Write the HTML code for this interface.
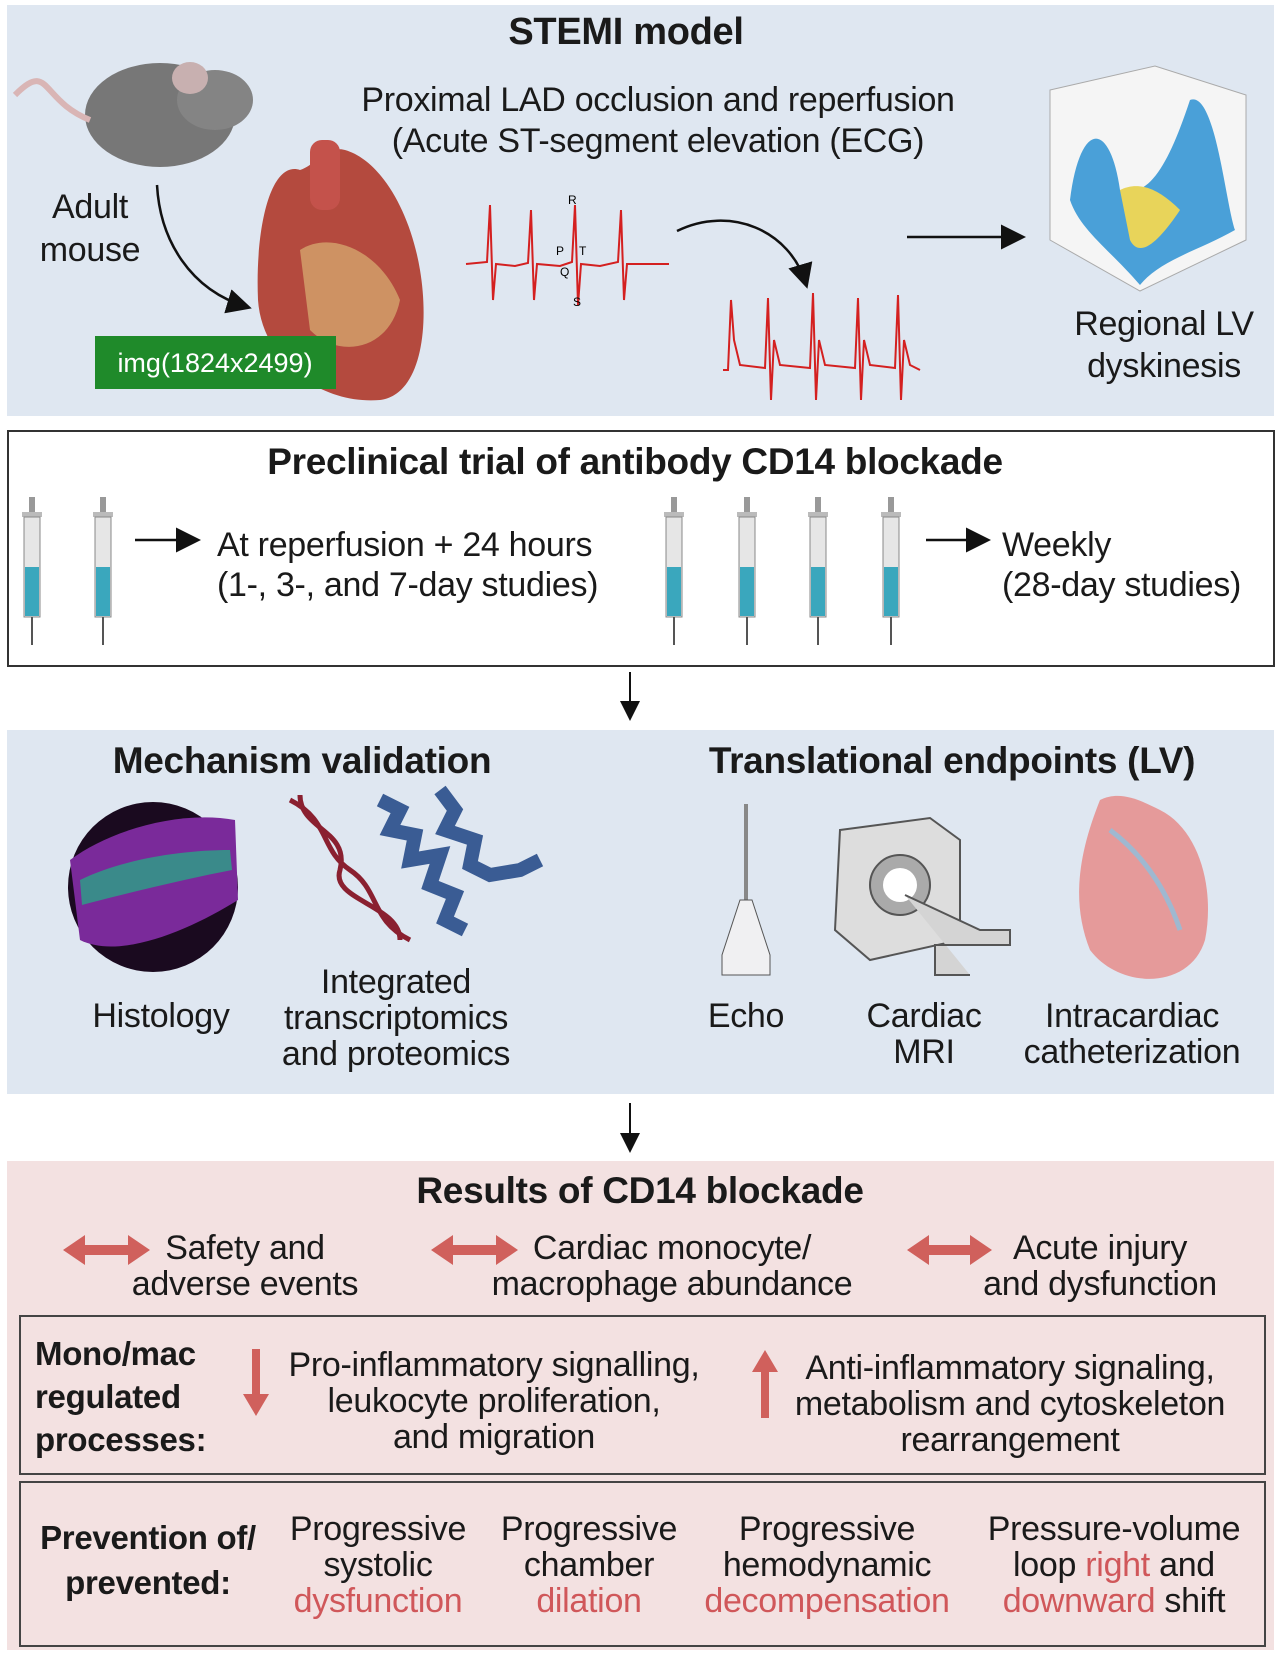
<!DOCTYPE html>
<html><head><meta charset="utf-8">
<style>
body{margin:0;width:1280px;height:1658px;background:#fff;position:relative;overflow:hidden;font-family:"Liberation Sans",sans-serif;color:#1a1a1a}
.p{position:absolute}
.c{position:absolute;white-space:nowrap;text-align:center;transform:translateX(-50%);font-size:34px;line-height:36px;letter-spacing:-0.3px}
.l{position:absolute;white-space:nowrap;font-size:34px;line-height:36px;letter-spacing:-0.3px}
.b{font-weight:bold}
.r{color:#d0575a}
</style></head><body>
<div class="p" style="left:7px;top:5px;width:1267px;height:411px;background:#dfe7f1"></div>
<div class="p" style="left:7px;top:430px;width:1264px;height:233px;border:2px solid #333;background:#fff"></div>
<div class="p" style="left:7px;top:730px;width:1267px;height:364px;background:#dfe7f1"></div>
<div class="p" style="left:7px;top:1161px;width:1267px;height:489px;background:#f3e1e1"></div>
<div class="p" style="left:19px;top:1315px;width:1243px;height:156px;border:2px solid #444"></div>
<div class="p" style="left:19px;top:1481px;width:1243px;height:162px;border:2px solid #444"></div>

<svg class="p" style="left:0;top:0" width="1280" height="1658">
<defs><marker id="ah" markerWidth="10" markerHeight="10" refX="8" refY="5" orient="auto"><path d="M0,0 L10,5 L0,10 z" fill="#111"/></marker>
<g id="sy">
<rect x="-3" y="497" width="6" height="18" fill="#999"/><rect x="-10" y="512" width="20" height="5" fill="#bbb"/>
<rect x="-8" y="517" width="16" height="100" fill="#e6e6e6" stroke="#888"/>
<rect x="-7" y="567" width="14" height="49" fill="#3aa7bd"/>
<line x1="0" y1="617" x2="0" y2="645" stroke="#555" stroke-width="2"/>
</g></defs>
<ellipse cx="160" cy="115" rx="75" ry="52" fill="#777"/>
<ellipse cx="215" cy="100" rx="38" ry="30" fill="#848484"/>
<ellipse cx="190" cy="78" rx="18" ry="16" fill="#c8b0b0"/>
<path d="M90,120 C40,100 50,60 15,95" stroke="#d9b5b5" stroke-width="6" fill="none"/>
<path d="M157,185 C160,240 190,290 247,307" stroke="#111" stroke-width="2.5" fill="none" marker-end="url(#ah)"/>
<path d="M300,170 C270,160 255,230 258,300 C262,360 320,405 380,400 C420,395 430,330 420,270 C410,210 380,160 345,150 C330,145 315,165 300,170z" fill="#b44a3e"/>
<rect x="310" y="140" width="30" height="70" rx="12" fill="#c4524b"/>
<path d="M300,250 C330,230 380,250 400,300 C390,350 340,360 310,330z" fill="#d8b074" opacity=".7"/>
<rect x="95" y="336" width="241" height="53" fill="#1f8a2a"/>
<text x="215" y="372" font-size="27" fill="#fff" text-anchor="middle" font-family="Liberation Sans">img(1824x2499)</text>
<polyline fill="none" stroke="#d42020" stroke-width="2" points="466,264 487,262 490,205 493,300 496,264 515,266 528,263 531,210 534,300 537,264 560,266 572,262 575,205 578,305 581,264 600,266 618,262 621,210 624,300 627,264 669,264"/>
<text x="568" y="204" font-size="12">R</text><text x="556" y="255" font-size="12">P</text><text x="579" y="255" font-size="12">T</text><text x="560" y="276" font-size="12">Q</text><text x="573" y="306" font-size="12">S</text>
<path d="M677,231 C730,205 790,230 806,284" stroke="#111" stroke-width="2.5" fill="none" marker-end="url(#ah)"/>
<polyline fill="none" stroke="#d42020" stroke-width="2" points="723,370 728,370 731,300 734,340 740,365 765,368 768,298 771,400 774,340 780,365 810,368 813,293 816,400 819,340 825,365 855,368 858,298 861,400 864,340 870,365 895,368 898,295 901,400 904,340 910,365 920,370"/>
<line x1="907" y1="237" x2="1021" y2="237" stroke="#111" stroke-width="2.5" marker-end="url(#ah)"/>
<path d="M1050,90 L1155,66 L1246,95 L1246,240 L1140,291 L1050,240z" fill="#f5f5f5" stroke="#aaa"/>
<path d="M1070,200 C1080,120 1110,120 1120,190 C1150,200 1170,160 1190,100 C1215,90 1225,200 1235,230 C1200,250 1160,260 1140,285 C1110,250 1080,230 1070,200z" fill="#4aa0d8"/>
<path d="M1120,190 C1140,180 1160,190 1180,210 C1160,240 1140,260 1130,240z" fill="#e8d45a"/>
<use href="#sy" x="32"/><use href="#sy" x="103"/><use href="#sy" x="674"/><use href="#sy" x="747"/><use href="#sy" x="818"/><use href="#sy" x="891"/>
<line x1="135" y1="540" x2="196" y2="540" stroke="#111" stroke-width="2.5" marker-end="url(#ah)"/>
<line x1="926" y1="540" x2="986" y2="540" stroke="#111" stroke-width="2.5" marker-end="url(#ah)"/>
<line x1="630" y1="672" x2="630" y2="717" stroke="#111" stroke-width="2" marker-end="url(#ah)"/>
<line x1="630" y1="1103" x2="630" y2="1149" stroke="#111" stroke-width="2" marker-end="url(#ah)"/>
<circle cx="153" cy="887" r="85" fill="#1a0a1f"/>
<path d="M70,860 C110,830 180,810 235,820 L238,900 C190,930 120,960 80,940z" fill="#7a2a9a"/>
<path d="M80,880 C120,860 180,850 230,850 L232,870 C180,880 120,895 82,905z" fill="#3a8a8a"/>
<path d="M290,800 C330,820 320,850 350,870 C380,890 370,920 410,940" stroke="#8a2030" stroke-width="5" fill="none"/>
<path d="M300,795 C300,830 350,830 340,870 C330,900 400,905 400,940" stroke="#8a2030" stroke-width="5" fill="none"/>
<path d="M380,800 l20,10 l-10,20 l25,5 l-5,25 l30,-5 l-10,30 l25,10 l-10,25 l20,10 M440,790 l15,20 l-10,20 l30,10 l-5,25 l20,10 l30,-5 l20,-10" stroke="#3a5c94" stroke-width="14" fill="none"/>
<line x1="746" y1="804" x2="746" y2="900" stroke="#888" stroke-width="4"/>
<path d="M740,900 L752,900 L770,955 L770,975 L722,975 L722,955z" fill="#f0f0f2" stroke="#555"/>
<path d="M840,830 L930,818 L960,840 L960,940 L870,960 L835,930z" fill="#ddd" stroke="#555" stroke-width="2"/>
<circle cx="900" cy="885" r="30" fill="#aaa" stroke="#555" stroke-width="2"/>
<circle cx="900" cy="885" r="17" fill="#fff"/>
<path d="M905,895 L980,930 L1010,930 L1010,945 L935,945 L935,975 L970,975" fill="#d4d4d4" stroke="#555" stroke-width="2"/>
<path d="M1100,800 C1080,850 1070,900 1090,950 C1120,990 1190,990 1205,940 C1215,890 1200,830 1160,810 C1140,800 1120,790 1100,800z" fill="#e59a9a"/>
<path d="M1110,830 C1150,860 1170,900 1180,930" stroke="#9fb8d0" stroke-width="5" fill="none"/>
<g fill="#d0605c">
<path d="M63,1250 l22,-15 v10 h43 v-10 l22,15 l-22,15 v-10 h-43 v10z"/>
<path d="M431,1250 l22,-15 v10 h43 v-10 l22,15 l-22,15 v-10 h-43 v10z"/>
<path d="M907,1250 l22,-15 v10 h41 v-10 l22,15 l-22,15 v-10 h-41 v10z"/>
<path d="M252,1349 h8 v45 h9 l-13,22 l-13,-22 h9z"/>
<path d="M765,1350 l13,22 h-9 v46 h-8 v-46 h-9z"/>
</g>
</svg>

<div class="c b" style="left:626px;top:12px;font-size:38px;line-height:40px">STEMI model</div>
<div class="c" style="left:658px;top:80px;line-height:41px">Proximal LAD occlusion and reperfusion<br>(Acute ST-segment elevation (ECG)</div>
<div class="c" style="left:90px;top:186px;line-height:43px">Adult<br>mouse</div>
<div class="c" style="left:1164px;top:303px;line-height:42px">Regional LV<br>dyskinesis</div>

<div class="c b" style="left:635px;top:442px;font-size:37px;line-height:40px">Preclinical trial of antibody CD14 blockade</div>
<div class="l" style="left:217px;top:525px;line-height:40px">At reperfusion + 24 hours<br>(1-, 3-, and 7-day studies)</div>
<div class="l" style="left:1002px;top:525px;line-height:40px">Weekly<br>(28-day studies)</div>

<div class="c b" style="left:302px;top:741px;font-size:37px;line-height:40px">Mechanism validation</div>
<div class="c b" style="left:952px;top:741px;font-size:37px;line-height:40px">Translational endpoints (LV)</div>
<div class="c" style="left:161px;top:998px">Histology</div>
<div class="c" style="left:396px;top:964px">Integrated<br>transcriptomics<br>and proteomics</div>
<div class="c" style="left:746px;top:998px">Echo</div>
<div class="c" style="left:924px;top:998px">Cardiac<br>MRI</div>
<div class="c" style="left:1132px;top:998px">Intracardiac<br>catheterization</div>

<div class="c b" style="left:640px;top:1171px;font-size:37px;line-height:40px">Results of CD14 blockade</div>
<div class="c" style="left:245px;top:1230px">Safety and<br>adverse events</div>
<div class="c" style="left:672px;top:1230px">Cardiac monocyte/<br>macrophage abundance</div>
<div class="c" style="left:1100px;top:1230px">Acute injury<br>and dysfunction</div>

<div class="l b" style="left:35px;top:1332px;line-height:43px;font-size:33px">Mono/mac<br>regulated<br>processes:</div>
<div class="c" style="left:494px;top:1347px">Pro-inflammatory signalling,<br>leukocyte proliferation,<br>and migration</div>
<div class="c" style="left:1010px;top:1350px">Anti-inflammatory signaling,<br>metabolism and cytoskeleton<br>rearrangement</div>

<div class="c b" style="left:148px;top:1515px;line-height:45px;font-size:33px">Prevention of/<br>prevented:</div>
<div class="c" style="left:378px;top:1511px">Progressive<br>systolic<br><span class="r">dysfunction</span></div>
<div class="c" style="left:589px;top:1511px">Progressive<br>chamber<br><span class="r">dilation</span></div>
<div class="c" style="left:827px;top:1511px">Progressive<br>hemodynamic<br><span class="r">decompensation</span></div>
<div class="c" style="left:1114px;top:1511px">Pressure-volume<br>loop <span class="r">right</span> and<br><span class="r">downward</span> shift</div>
</body></html>
